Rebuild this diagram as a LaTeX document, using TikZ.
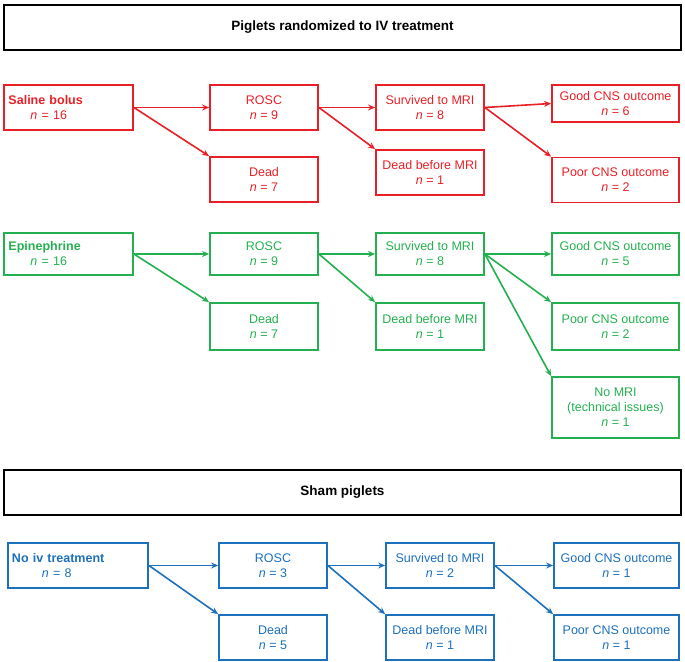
\documentclass[tikz,border=0pt]{standalone}
\usepackage{fontspec}
\setmainfont{Liberation Sans}
\usetikzlibrary{arrows.meta}
\definecolor{sred}{RGB}{232,32,38}
\definecolor{sgreen}{RGB}{36,176,80}
\definecolor{sblue}{RGB}{28,112,188}
\begin{document}
\begin{tikzpicture}[x=1pt,y=-1pt,
    every node/.style={font=\fontsize{12.5}{15}\selectfont},
    box/.style={draw,line width=1.8pt,minimum width=108pt,minimum height=45pt,align=center,inner sep=2pt},
    wide/.style={box,minimum width=127pt},
    head/.style={draw,line width=1.2pt,minimum width=677pt,minimum height=45pt,font=\fontsize{13.5}{16}\selectfont\bfseries},
    link/.style={line width=1.6pt,-{Stealth[length=7pt,width=6pt]}}]
  \useasboundingbox (0,0) rectangle (685,661);
  \node[head] (top) at (342.5,27.5) {Piglets randomized to IV treatment};
  \node[head] (sham) at (342.5,492.5) {Sham piglets};

  % saline
  \begin{scope}[sred,every node/.append style={text=sred}]
    \node[wide,align=left,text width=120pt,minimum width=129pt] (sal) at (68.5,107.5) {\textbf{Saline bolus}\\\hspace*{22pt}\textit{n} = 16};
    \node[box] (salrosc) at (264,107.5) {ROSC\\\textit{n} = 9};
    \node[box] (salsurv) at (430,107.5) {Survived to MRI\\\textit{n} = 8};
    \node[wide,minimum height=37pt] (salgood) at (615.5,103.5) {Good CNS outcome\\\textit{n} = 6};
    \node[box] (saldead) at (264,179.5) {Dead\\\textit{n} = 7};
    \node[box] (saldbm) at (430,172.5) {Dead before MRI\\\textit{n} = 1};
    \node[wide] (salpoor) at (615.5,180) {Poor CNS outcome\\\textit{n} = 2};
    \draw[link] (sal.east) -- (salrosc.west);
    \draw[link] (sal.east) -- (saldead.north west);
    \draw[link] (salrosc.east) -- (salsurv.west);
    \draw[link] (salrosc.east) -- (saldbm.north west);
    \draw[link] (salsurv.east) -- (salgood.west);
    \draw[link] (salsurv.east) -- (salpoor.north west);
  \end{scope}

  % epinephrine
  \begin{scope}[sgreen,every node/.append style={text=sgreen}]
    \node[wide,align=left,text width=120pt,minimum width=129pt,minimum height=42pt] (epi) at (68.5,254) {\textbf{Epinephrine}\\\hspace*{22pt}\textit{n} = 16};
    \node[box,minimum height=42pt] (epirosc) at (264,254) {ROSC\\\textit{n} = 9};
    \node[box,minimum height=42pt] (episurv) at (430,254) {Survived to MRI\\\textit{n} = 8};
    \node[wide,minimum height=42pt] (epigood) at (615.5,254) {Good CNS outcome\\\textit{n} = 5};
    \node[box,minimum height=47pt] (epidead) at (264,326.5) {Dead\\\textit{n} = 7};
    \node[box,minimum height=47pt] (epidbm) at (430,326.5) {Dead before MRI\\\textit{n} = 1};
    \node[wide,minimum height=47pt] (epipoor) at (615.5,326.5) {Poor CNS outcome\\\textit{n} = 2};
    \node[wide,minimum height=61pt] (epinomri) at (615.5,407.5) {No MRI\\(technical issues)\\\textit{n} = 1};
    \draw[link] (epi.east) -- (epirosc.west);
    \draw[link] (epi.east) -- (epidead.north west);
    \draw[link] (epirosc.east) -- (episurv.west);
    \draw[link] (epirosc.east) -- (epidbm.north west);
    \draw[link] (episurv.east) -- (epigood.west);
    \draw[link] (episurv.east) -- (epipoor.north west);
    \draw[link] (episurv.east) -- (epinomri.north west);
  \end{scope}

  % sham
  \begin{scope}[sblue,every node/.append style={text=sblue}]
    \node[wide,align=left,text width=132pt,minimum width=140pt] (noiv) at (78,565.5) {\textbf{No iv treatment}\\\hspace*{30pt}\textit{n} = 8};
    \node[box] (shrosc) at (273,565.5) {ROSC\\\textit{n} = 3};
    \node[box] (shsurv) at (440,565.5) {Survived to MRI\\\textit{n} = 2};
    \node[wide,minimum width=125pt] (shgood) at (616.5,565.5) {Good CNS outcome\\\textit{n} = 1};
    \node[box] (shdead) at (273,637.5) {Dead\\\textit{n} = 5};
    \node[box] (shdbm) at (440,637.5) {Dead before MRI\\\textit{n} = 1};
    \node[wide,minimum width=125pt] (shpoor) at (616.5,637.5) {Poor CNS outcome\\\textit{n} = 1};
    \draw[link] (noiv.east) -- (shrosc.west);
    \draw[link] (noiv.east) -- (shdead.north west);
    \draw[link] (shrosc.east) -- (shsurv.west);
    \draw[link] (shrosc.east) -- (shdbm.north west);
    \draw[link] (shsurv.east) -- (shgood.west);
    \draw[link] (shsurv.east) -- (shpoor.north west);
  \end{scope}
\end{tikzpicture}
\end{document}
